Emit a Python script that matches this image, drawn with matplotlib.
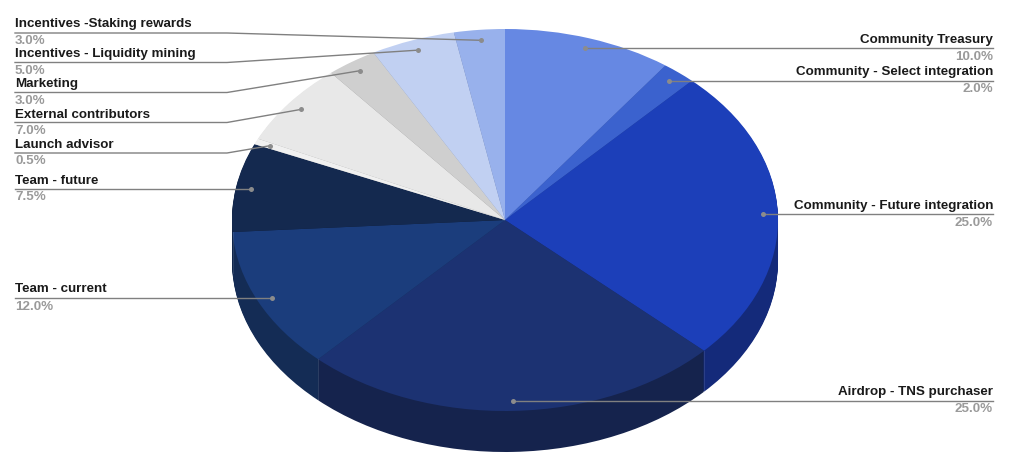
import matplotlib
matplotlib.use("Agg")
import matplotlib.pyplot as plt
from matplotlib.lines import Line2D
import numpy as np

names = ["Community Treasury", "Community - Select integration", "Community - Future integration",
         "Airdrop - TNS purchaser", "Team - current", "Team - future", "Launch advisor",
         "External contributors", "Marketing", "Incentives - Liquidity mining", "Incentives -Staking rewards"]
values = [10.0, 2.0, 25.0, 25.0, 12.0, 7.5, 0.5, 7.0, 3.0, 5.0, 3.0]
top_colors = ["#6688E3", "#3B62CE", "#1C3FB9", "#1C3272", "#1B3D7C", "#14294F", "#F0F0F0",
              "#E8E8E8", "#CFCFCF", "#C1D0F2", "#98B1EC"]
side_colors = ["#4A63A6", "#2B4796", "#142A7A", "#15234D", "#142C55", "#0E1D38", "#B0B0B0",
               "#A8A8A8", "#969696", "#8C98B0", "#6F81AC"]

W, H = 1024, 468
CX, CY, RX, RY, DEPTH = 505, 220, 273, 191, 41

plt.rcParams["font.family"] = ["Liberation Sans", "DejaVu Sans"]
fig = plt.figure(figsize=(W / 100, H / 100), dpi=100, facecolor="white")
ax = fig.add_axes([0, 0, 1, 1])

# side wall: stacked copies of the pie, from the bottom up
for d in np.arange(DEPTH, 0, -1.0):
    ax.pie(values, colors=side_colors, startangle=90, counterclock=False,
           center=(0, -d / RY), radius=1, frame=True,
           wedgeprops=dict(linewidth=0))
# top face
ax.pie(values, colors=top_colors, startangle=90, counterclock=False,
       center=(0, 0), radius=1, frame=True,
       wedgeprops=dict(linewidth=0))
ax.set_aspect("auto")
ax.set_xlim(-CX / RX, (W - CX) / RX)
ax.set_ylim(-(H - CY) / RY, CY / RY)
ax.axis("off")

# seams on the front wall
cum = np.cumsum(values) / sum(values)
for c in cum:
    a = 2 * np.pi * c
    x, y = np.sin(a), np.cos(a)
    if y < 0:
        ax.plot([x, x], [y, y - DEPTH / RY], color="#FFFFFF", alpha=0.12, lw=0.6, zorder=5)

# labels with leader lines (pixel coordinates on the figure)
name_y = {0: 39.5, 1: 72.5, 2: 205.5, 3: 392.5, 4: 289.5, 5: 180.5, 6: 144.5, 7: 114.5, 8: 84.5, 9: 54.5, 10: 24}
rule_y = {0: 48, 1: 80.5, 2: 214, 3: 401, 4: 298, 5: 189, 6: 153, 7: 122.5, 8: 92.5, 9: 62.5, 10: 33}
mid = (cum - np.array(values) / sum(values) / 2) * 2 * np.pi

def fx(p): return p / W
def fy(p): return 1 - p / H

for i, (n, v) in enumerate(zip(names, values)):
    dx = CX + 0.945 * RX * np.sin(mid[i])
    dy = CY - 0.945 * RY * np.cos(mid[i])
    right = i < 4
    tx = 993 if right else 15
    ha = "right" if right else "left"
    ry = rule_y[i]
    if right or i in (4, 5):
        xs, ys = [dx, tx], [ry, ry]
        dy = ry
    else:
        xs, ys = [dx, 227, tx], [dy, ry, ry]
    fig.add_artist(Line2D([fx(a) for a in xs], [fy(b) for b in ys], color="#808080", lw=1.0, zorder=10))
    fig.add_artist(Line2D([fx(dx)], [fy(dy)], marker="o", ms=3.6, color="#8C8C8C", mew=0, zorder=11))
    fig.text(fx(tx), fy(name_y[i]), n, ha=ha, va="center", fontsize=9.6, fontweight="bold", color="#1A1A1A")
    fig.text(fx(tx), fy(ry + 8.5), f"{v:.1f}%", ha=ha, va="center", fontsize=9.6, fontweight="bold", color="#9A9A9A")

fig.savefig("out.png", dpi=100, facecolor="white")
